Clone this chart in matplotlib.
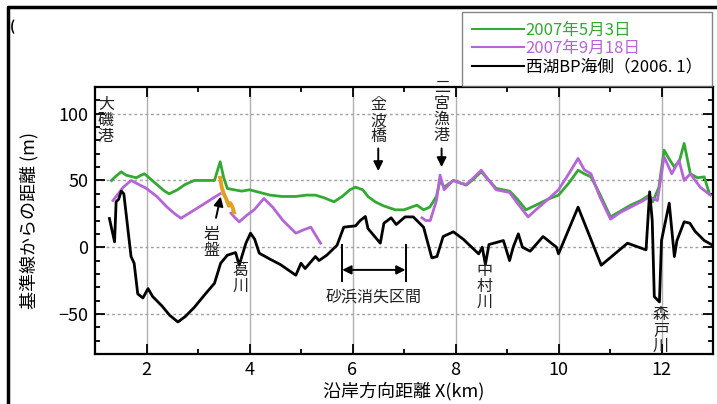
import matplotlib

matplotlib.use("Agg")
import matplotlib.pyplot as plt
from matplotlib.lines import Line2D
from matplotlib.ticker import MultipleLocator

plt.rcParams["font.family"] = ["Noto Sans CJK JP", "DejaVu Sans"]

# 2007年5月3日
green_x = [1.32, 1.40, 1.51, 1.60, 1.70, 1.80, 1.90, 1.96, 2.05, 2.20, 2.35, 2.44,
           2.60, 2.75, 2.93, 3.10, 3.32, 3.43, 3.50, 3.57, 3.70, 3.85, 4.00, 4.20,
           4.40, 4.63, 4.90, 5.10, 5.28, 5.45, 5.64, 5.80, 5.95, 6.06, 6.20, 6.30,
           6.44, 6.60, 6.83, 7.00, 7.25, 7.38, 7.50, 7.63, 7.70, 7.78, 7.96, 8.10,
           8.21, 8.35, 8.50, 8.65, 8.79, 9.05, 9.20, 9.37, 9.56, 9.80, 10.00, 10.20,
           10.38, 10.50, 10.63, 10.80, 11.01, 11.20, 11.40, 11.60, 11.76, 11.83, 11.95,
           12.05, 12.15, 12.25, 12.35, 12.44, 12.56, 12.70, 12.83, 12.93]
green_y = [50, 53, 56.5, 54, 53, 52, 54, 55, 52, 47, 42, 40,
           43, 47, 50, 50, 50, 64, 52, 44, 43, 42, 43, 41,
           39, 38, 38, 39, 39, 37, 34, 38, 43, 45, 43, 38,
           34, 31, 28, 28, 31.5, 28, 30, 38, 50, 45, 50, 48,
           46.5, 51, 56.5, 50, 44, 42, 36, 28, 31.5, 36, 39, 48,
           57.7, 55, 52.7, 40, 22.7, 27, 31.5, 35, 39, 34, 45,
           72.7, 66, 60, 65, 77.7, 55, 52, 52.7, 40]

# 2007年9月18日 (pieces)
purple1_x = [1.35, 1.45, 1.55, 1.70, 1.85, 2.00, 2.20, 2.40, 2.55, 2.67, 2.85, 3.10,
             3.30, 3.43]
purple1_y = [35, 40, 45, 50, 47, 44, 38, 30, 25, 21.7, 26, 32, 37, 40]
# 岩盤 section
rock_x = [3.43, 3.46, 3.50, 3.55, 3.60, 3.63, 3.67, 3.70]
rock_y = [52, 45, 40, 36, 31, 33, 30, 26]
purple2_x = [3.64, 3.72, 3.80, 3.95, 4.09, 4.28, 4.45, 4.65, 4.90, 5.05, 5.19, 5.30,
             5.38]
purple2_y = [25.5, 22, 19, 24, 28, 36.5, 30, 20, 10.5, 13, 15, 8, 3]
purple3_x = [7.35, 7.42, 7.51, 7.63, 7.70, 7.78, 7.90, 7.96, 8.10, 8.21, 8.35, 8.50,
             8.65, 8.79, 9.05, 9.20, 9.41, 9.56, 9.80, 10.00, 10.20, 10.38, 10.50,
             10.63, 10.80, 11.01, 11.20, 11.40, 11.60, 11.76, 11.92, 12.05, 12.20,
             12.34, 12.44, 12.56, 12.75, 12.85, 12.95]
purple3_y = [22, 20, 20, 35, 54, 43, 48, 50, 48, 47, 52, 57.7,
             50, 43, 41, 33, 22.7, 28, 36, 43, 55, 66.5, 58,
             55, 38, 21, 26, 30, 34, 37.5, 35, 67.7, 55,
             65, 50, 55, 45, 42, 39]

# 西湖BP海側 (2006.1)
black_x = [1.28, 1.38, 1.41, 1.46, 1.51, 1.56, 1.64, 1.70, 1.76, 1.83, 1.93, 2.03,
           2.12, 2.30, 2.45, 2.61, 2.75, 2.93, 3.10, 3.32, 3.44, 3.57, 3.73, 3.80,
           3.93, 4.02, 4.10, 4.19, 4.40, 4.60, 4.90, 5.00, 5.08, 5.28, 5.35, 5.50,
           5.70, 5.83, 6.06, 6.15, 6.25, 6.30, 6.54, 6.61, 6.75, 6.85, 7.02, 7.18,
           7.38, 7.54, 7.64, 7.76, 7.96, 8.15, 8.45, 8.52, 8.58, 8.65, 8.93, 9.05,
           9.12, 9.22, 9.30, 9.45, 9.70, 9.96, 10.00, 10.38, 10.83, 11.34, 11.70,
           11.77, 11.82, 11.86, 11.96, 12.00, 12.15, 12.25, 12.30, 12.44, 12.55,
           12.65, 12.83, 12.97]
black_y = [21.5, 4, 34, 36, 42, 40, 13, -7, -12, -35, -38, -31,
           -37, -44, -51, -56, -52, -45, -37, -27, -12, -6, -4, -13.5,
           3, 10.5, 6, -4.5, -9, -13, -21, -12, -16, -7, -10, -6,
           1.5, 15, 16, 20, 23, 14, 3, 18, 22, 17, 22.7, 22.7,
           15, -8, -7, 8, 11.5, 6, -5, 0, -13, 2, 5, -10,
           0, 10, 0, -3, 8, 0, -5, 30, -13.5, 3, -2,
           41.5, 20, -37, -41, 5, 33, -7, 5, 19, 18,
           12, 5, 2]

green = "#33a833"
purple = "#b565d6"
orange = "#e0a020"

fig = plt.figure(figsize=(7.17, 4.04), dpi=100)
ax = fig.add_axes([95 / 717, 1 - 354 / 404, 618 / 717, 267 / 404])

for v in range(2, 13, 2):
    ax.axvline(v, color="#b0b0b0", lw=1.0, zorder=0)
for h in [-50, 0, 50, 100]:
    ax.axhline(h, color="#a0a0a0", lw=1.0, ls=(0, (2, 2)), zorder=0)

ax.plot(green_x, green_y, color=green, lw=2.0, label="2007年5月3日")
ax.plot(purple1_x, purple1_y, color=purple, lw=2.0, label="2007年9月18日")
ax.plot(purple2_x, purple2_y, color=purple, lw=2.0)
ax.plot(purple3_x, purple3_y, color=purple, lw=2.0)
ax.plot(rock_x, rock_y, color=orange, lw=2.8)
ax.plot(black_x, black_y, color="black", lw=2.0, label="西湖BP海側（2006. 1）")

ax.set_xlim(1, 13)
ax.set_ylim(-80, 120)
ax.xaxis.set_major_locator(MultipleLocator(2))
ax.xaxis.set_minor_locator(MultipleLocator(1))
ax.yaxis.set_major_locator(MultipleLocator(50))
ax.yaxis.set_minor_locator(MultipleLocator(10))
ax.tick_params(which="both", direction="in", top=True, right=True, width=1.3)
ax.tick_params(which="major", length=7, labelsize=13, pad=5)
ax.tick_params(which="minor", length=3.5)
for s in ax.spines.values():
    s.set_linewidth(1.6)

ax.set_xlabel("沿岸方向距離 X(km)", fontsize=13, labelpad=2)
ax.set_ylabel("基準線からの距離 (m)", fontsize=13, labelpad=14)

# vertical place names
vt = dict(fontsize=11.5, ha="center", va="top", linespacing=0.92,
          color="#222222")
ax.text(1.21, 113, "大\n磯\n港", **vt)
ax.text(6.50, 113, "金\n波\n橋", **vt)
ax.text(7.73, 126, "二\n宮\n漁\n港", clip_on=False, **vt)
ax.text(3.27, 16, "岩\n盤", **vt)
ax.text(3.83, -11, "葛\n川", **vt)
ax.text(8.56, -11, "中\n村\n川", **vt)
ax.text(11.99, -44, "森\n戸\n川", **vt)
ax.text(6.41, -37.5, "砂浜消失区間", fontsize=11.5, ha="center", va="center",
        color="#222222")

arr = dict(arrowstyle="-|>", color="black", lw=1.4, mutation_scale=14,
           shrinkA=0, shrinkB=0)
ax.annotate("", xy=(6.50, 57), xytext=(6.50, 74), arrowprops=arr)
ax.annotate("", xy=(7.73, 60), xytext=(7.73, 74), arrowprops=arr)
ax.annotate("", xy=(3.44, 38), xytext=(3.35, 22), arrowprops=arr)
ax.annotate("", xy=(5.80, -17), xytext=(7.03, -17),
            arrowprops=dict(arrowstyle="<|-|>", color="black", lw=1.4,
                            mutation_scale=13, shrinkA=0, shrinkB=0))
ax.plot([5.80, 5.80], [2, -25], color="black", lw=1.4)
ax.plot([7.03, 7.03], [2, -25], color="black", lw=1.4)

leg = ax.legend(loc="upper right", bbox_to_anchor=(712 / 717, 1 - 12 / 404),
                bbox_transform=fig.transFigure, fontsize=12, handlelength=3.1,
                labelspacing=0.08, handletextpad=0.1, borderpad=0.6,
                borderaxespad=0, fancybox=False, edgecolor="#666666",
                labelcolor="linecolor")
leg.get_frame().set_linewidth(1.0)
for ln in leg.get_lines():
    ln.set_linewidth(1.5)

# page frame
fig.add_artist(Line2D([8 / 717, 8 / 717, 1], [0, 1 - 7 / 404, 1 - 7 / 404],
                      transform=fig.transFigure, color="black", lw=2.5))
fig.text(10 / 717, 1 - 27 / 404, "(", fontsize=10, fontweight="bold",
         ha="left", va="center")

fig.savefig("out.png", dpi=100)
